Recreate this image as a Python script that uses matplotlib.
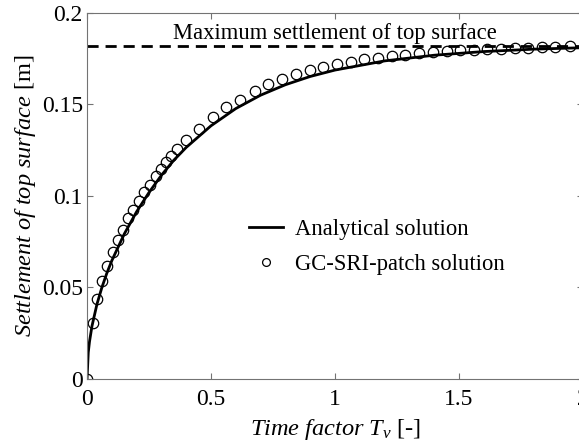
import matplotlib
matplotlib.use("Agg")
import matplotlib.pyplot as plt

# analytical solution
tv_line = [0, 0.005, 0.01, 0.02, 0.04, 0.06, 0.08, 0.1, 0.15, 0.2, 0.25, 0.3, 0.35, 0.4,
           0.5, 0.6, 0.7, 0.8, 0.9, 1.0, 1.2, 1.4, 1.6, 1.8, 2.0]
s_line = [0, 0.0145, 0.0204, 0.0289, 0.0408, 0.0500, 0.0578, 0.0646, 0.0791, 0.0913,
          0.1018, 0.1112, 0.1194, 0.1264, 0.1382, 0.1476, 0.1549, 0.1606, 0.1651, 0.1686,
          0.1736, 0.1767, 0.1787, 0.1800, 0.1808]

# GC-SRI-patch solution (circles)
tv_pts = [0, 0.023, 0.042, 0.062, 0.082, 0.104, 0.125, 0.144, 0.165, 0.184, 0.208, 0.23,
          0.252, 0.277, 0.297, 0.32, 0.34, 0.363, 0.399, 0.452, 0.508, 0.562, 0.618,
          0.676, 0.73, 0.785, 0.841, 0.898, 0.953, 1.009, 1.065, 1.118, 1.172, 1.23,
          1.284, 1.337, 1.394, 1.45, 1.504, 1.56, 1.614, 1.668, 1.725, 1.778, 1.835,
          1.888, 1.947]
s_pts = [0, 0.0304, 0.0437, 0.0535, 0.0617, 0.0691, 0.0757, 0.0813, 0.0877, 0.0924, 0.0973,
         0.102, 0.106, 0.1106, 0.1148, 0.1186, 0.1219, 0.1255, 0.1306, 0.1364, 0.1429,
         0.1482, 0.1523, 0.157, 0.161, 0.1637, 0.1664, 0.1684, 0.17, 0.1717, 0.173,
         0.1745, 0.1754, 0.176, 0.1769, 0.178, 0.1785, 0.179, 0.1793, 0.1797, 0.18,
         0.1802, 0.1806, 0.1809, 0.1812, 0.1812, 0.1815]

s_max = 0.1817

plt.rcParams['font.family'] = ['Liberation Serif', 'DejaVu Serif']
plt.rcParams['mathtext.fontset'] = 'custom'
plt.rcParams['mathtext.it'] = 'Liberation Serif:italic'
plt.rcParams['mathtext.rm'] = 'Liberation Serif'

fig = plt.figure(figsize=(5.79, 4.44), dpi=100)
ax = fig.add_axes([0.1503, 0.1464, 0.8567, 0.8254])

ax.axhline(s_max, color='k', ls=(0, (4, 2.5)), lw=2)
ax.plot(tv_line, s_line, 'k-', lw=2, label='Analytical solution')
ax.plot(tv_pts, s_pts, 'o', mfc='none', mec='k', ms=7.5, mew=0.9, label='GC-SRI-patch solution')

ax.text(0.998, 0.1887, 'Maximum settlement of top surface', fontsize=16.3, ha='center', va='center')

ax.set_xlim(0, 2)
ax.set_ylim(0, 0.2)
ax.set_xticks([0, 0.5, 1, 1.5, 2])
ax.set_xticklabels(['0', '0.5', '1', '1.5', '2'])
ax.set_yticks([0, 0.05, 0.1, 0.15, 0.2])
ax.set_yticklabels(['0', '0.05', '0.1', '0.15', '0.2'])
ax.tick_params(direction='in', top=True, right=True, labelsize=17, length=4, color='0.45')
ax.tick_params(axis='x', pad=7)
ax.tick_params(axis='y', pad=3)
for sp in ax.spines.values():
    sp.set_color('0.45')

ax.set_xlabel(r'$\mathit{Time\ factor\ T_v}$ [-]', fontsize=17.6, labelpad=5)
ax.set_ylabel(r'$\mathit{Settlement\ of\ top\ surface}$ [m]', fontsize=17.6, labelpad=3)

ax.legend(loc='center', bbox_to_anchor=(0.584, 0.36), frameon=False, fontsize=16.3,
          markerscale=0.75, handlelength=1.5, labelspacing=0.6, handletextpad=0.55)

fig.savefig('out.png', dpi=100)
